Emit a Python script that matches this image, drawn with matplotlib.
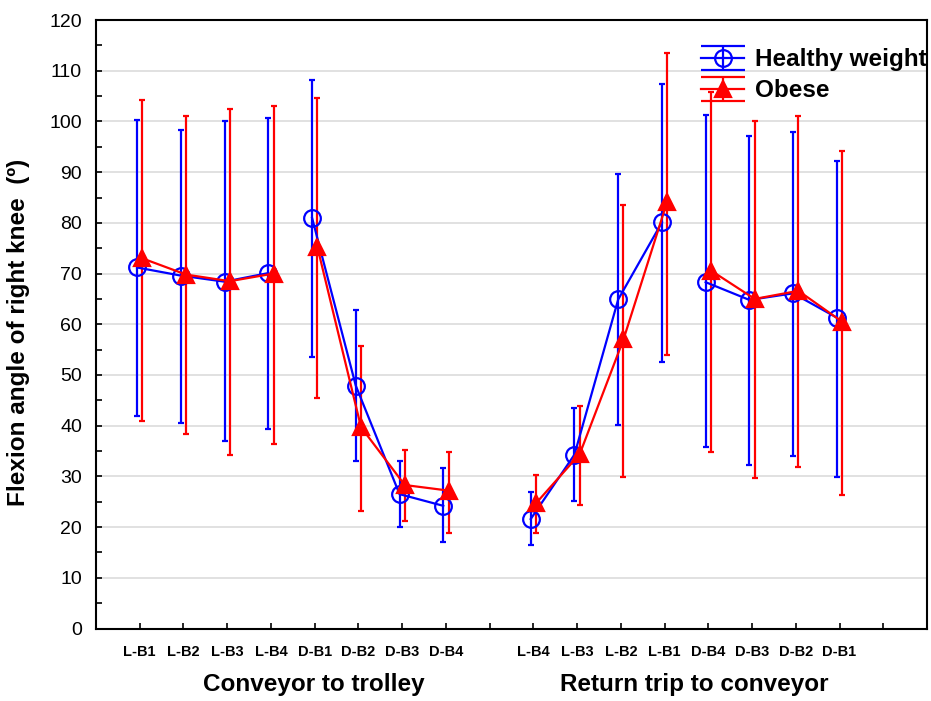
import numpy as np
import matplotlib.pyplot as plt
from matplotlib.transforms import blended_transform_factory

plt.rcParams['font.family'] = ['Liberation Sans', 'DejaVu Sans']

# x positions 1-8 = conveyor to trolley, 10-17 = return trip
positions = [1, 2, 3, 4, 5, 6, 7, 8, 10, 11, 12, 13, 14, 15, 16, 17]
tick_labels = ['L-B1', 'L-B2', 'L-B3', 'L-B4', 'D-B1', 'D-B2', 'D-B3', 'D-B4',
               'L-B4', 'L-B3', 'L-B2', 'L-B1', 'D-B4', 'D-B3', 'D-B2', 'D-B1']
groups = ['Conveyor to trolley', 'Return trip to conveyor']

# Healthy weight: mean, upper and lower error bar ends
healthy_mean = [71.2, 69.6, 68.4, 70.1, 81.0, 47.9, 26.5, 24.2,
                21.6, 34.3, 64.9, 80.1, 68.3, 64.8, 66.1, 61.3]
healthy_hi = [100.3, 98.4, 100.0, 100.7, 108.2, 62.9, 33.0, 31.6,
              26.9, 43.4, 89.6, 107.4, 101.3, 97.1, 97.9, 92.2]
healthy_lo = [42.0, 40.6, 37.0, 39.3, 53.6, 33.0, 20.0, 17.0,
              16.4, 25.2, 40.2, 52.6, 35.8, 32.2, 34.0, 29.9]

# Obese
obese_mean = [73.0, 69.8, 68.5, 70.0, 75.3, 39.7, 28.3, 27.2,
              24.7, 34.4, 57.0, 84.2, 70.6, 65.0, 66.6, 60.5]
obese_hi = [104.2, 101.0, 102.5, 103.0, 104.7, 55.7, 35.2, 34.8,
            30.2, 43.9, 83.5, 113.6, 105.9, 100.1, 101.1, 94.1]
obese_lo = [40.9, 38.3, 34.3, 36.4, 45.5, 23.1, 21.2, 18.8,
            18.9, 24.3, 29.9, 54.0, 34.9, 29.7, 31.8, 26.4]

fig = plt.figure(figsize=(9.31, 7.01), dpi=100)
ax = fig.add_axes([0.1031, 0.1034, 0.8926, 0.868])

# lines are connected only within each block of four (L-B* / D-B*)
segments = [slice(0, 4), slice(4, 8), slice(8, 12), slice(12, 16)]

def draw(mean, hi, lo, offset, color, marker, ms, mfc, label):
    mean = np.array(mean)
    yerr = [mean - np.array(lo), np.array(hi) - mean]
    x = np.array(positions, dtype=float) + offset
    for sl in segments:
        ax.errorbar(x[sl], mean[sl], yerr=[yerr[0][sl], yerr[1][sl]],
                    color=color, lw=1.6, elinewidth=1.6, capsize=2.2, capthick=1.6,
                    marker=marker, ms=ms, mfc=mfc, mec=color, mew=1.6, zorder=3)
    # proxy outside the axes, only for the legend (wide caps like the original)
    return ax.errorbar([-5], [50], yerr=[[10], [10]], color=color, lw=1.6,
                       elinewidth=1.6, capsize=15.5, capthick=1.6, marker=marker,
                       ms=ms, mfc=mfc, mec=color, mew=1.6, label=label)

h1 = draw(healthy_mean, healthy_hi, healthy_lo, -0.06, '#0000ff', 'o', 12, 'none', 'Healthy weight')
h2 = draw(obese_mean, obese_hi, obese_lo, 0.06, '#ff0000', '^', 12, '#ff0000', 'Obese')

ax.set_xlim(0, 19)
ax.set_ylim(0, 120)
ax.set_xticks(list(range(1, 19)))
ax.set_xticklabels(tick_labels[:8] + [''] + tick_labels[8:] + [''],
                   fontsize=10.5, fontweight='bold')
ax.set_yticks(np.arange(0, 121, 10))
ax.set_yticks(np.arange(5, 120, 10), minor=True)
ax.tick_params(axis='both', direction='in', length=4, width=1.2, labelsize=14)
ax.tick_params(axis='x', pad=12, labelsize=10.5)
ax.tick_params(axis='y', pad=10)
ax.tick_params(axis='y', which='minor', direction='in', length=4, width=1.2)
ax.yaxis.grid(True, color='#dcdcdc', lw=1.2)
ax.set_axisbelow(True)
for s in ax.spines.values():
    s.set_linewidth(1.5)
    s.set_color('black')

ax.set_ylabel('Flexion angle of right knee  (º)', fontsize=17.5, fontweight='bold')
ax.yaxis.set_label_coords(-0.08, 0.486)

trans = blended_transform_factory(ax.transData, fig.transFigure)
ax.text(4.97, 1 - 685 / 701, groups[0], transform=trans, ha='center', va='center',
        fontsize=17.5, fontweight='bold')
ax.text(13.67, 1 - 685 / 701, groups[1], transform=trans, ha='center', va='center',
        fontsize=17.5, fontweight='bold')

ax.legend(handles=[h1, h2], loc='upper right', bbox_to_anchor=(1.0, 0.9534), frameon=False,
          prop={'size': 17.5, 'weight': 'bold'}, handlelength=1.8,
          handletextpad=0.45, labelspacing=0.33, borderpad=0, borderaxespad=0)

fig.savefig('out.png', dpi=100)
